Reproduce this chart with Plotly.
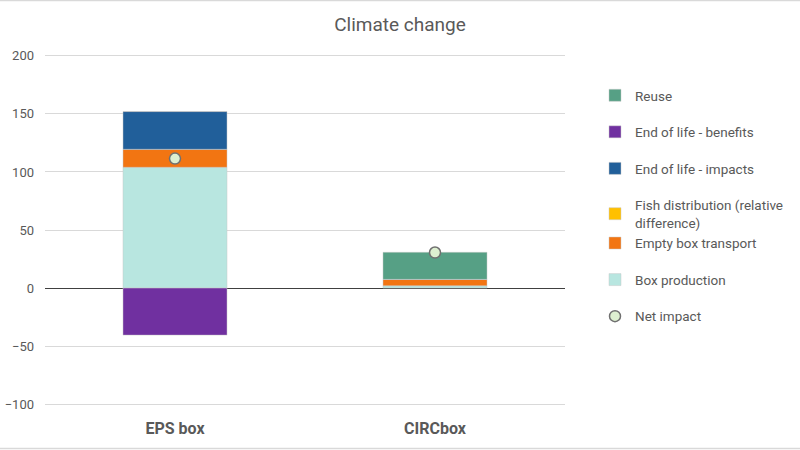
import plotly.graph_objects as go

categories = ["EPS box", "CIRCbox"]
box_production = [104, 2]
empty_box_transport = [15.5, 5.5]
fish_distribution = [0, 0]
eol_impacts = [32.5, 0]
eol_benefits = [-40.5, 0]
reuse = [0, 23.3]
net_impact = [111.5, 30.6]

series = [
    ("Box production", box_production, "#B8E6E0", "g1"),
    ("Empty box transport", empty_box_transport, "#F27512", "g2"),
    ("Fish distribution (relative<br>difference)", fish_distribution, "#FFC000", "g2"),
    ("End of life - impacts", eol_impacts, "#215F9A", "g4"),
    ("End of life - benefits", eol_benefits, "#7030A0", "g5"),
    ("Reuse", reuse, "#56A085", "g6"),
]

grey = "#595959"
fig = go.Figure()

fig.add_trace(go.Scatter(
    x=categories, y=net_impact, name="Net impact", mode="markers",
    marker=dict(size=11, color="#DDEFD0", line=dict(color="#707070", width=1.5)),
    legendgroup="g0", legendrank=7,
))
rank = 6
for name, vals, color, grp in series:
    fig.add_trace(go.Bar(
        x=categories, y=vals, name=name,
        marker=dict(color=color, line=dict(color="rgba(200,200,200,0.8)", width=0.6)),
        legendgroup=grp, legendrank=rank,
    ))
    rank -= 1

T, B, L, R = 50, 40, 45, 235
H = 450.0 - T - B
W = 800.0 - L - R
fig.update_layout(
    width=800, height=450,
    barmode="relative", bargap=0.6,
    plot_bgcolor="white", paper_bgcolor="white",
    margin=dict(l=L, r=R, t=T, b=B, autoexpand=False),
    font=dict(family="Roboto, Liberation Sans, sans-serif", color=grey, size=13),
    title=dict(text="Climate change", x=0.5, xref="container", xanchor="center",
               y=1 - 24 / 450, yref="container", yanchor="middle",
               font=dict(size=19, color=grey)),
    showlegend=True,
    legend=dict(x=(595 - L) / W, xanchor="left", y=1 - 30 / H, yanchor="top",
                traceorder="grouped", tracegroupgap=16,
                font=dict(size=13.5, color=grey), itemwidth=30),
    shapes=[
        dict(type="line", xref="paper", yref="paper", x0=-L / W, x1=(800 - L) / W,
             y0=1 + (T - 0.5) / H, y1=1 + (T - 0.5) / H, line=dict(color="#D9D9D9", width=1.5)),
        dict(type="line", xref="paper", yref="paper", x0=-L / W, x1=(800 - L) / W,
             y0=-(B - 1.5) / H, y1=-(B - 1.5) / H, line=dict(color="#D9D9D9", width=1.5)),
    ],
)
fig.update_xaxes(showgrid=False, showline=False, ticks="", ticklabelstandoff=7,
                 tickfont=dict(size=16, color=grey, family="Roboto, sans-serif", weight="bold"))
fig.update_yaxes(range=[-105, 205], dtick=50, showgrid=True, gridcolor="#D9D9D9",
                 zeroline=True, zerolinecolor="#404040", zerolinewidth=1.2,
                 tickfont=dict(size=13, color=grey), ticklabelstandoff=10)

fig.write_html("out.html", config={"displayModeBar": False},
               post_script="document.body.style.margin='0';")
